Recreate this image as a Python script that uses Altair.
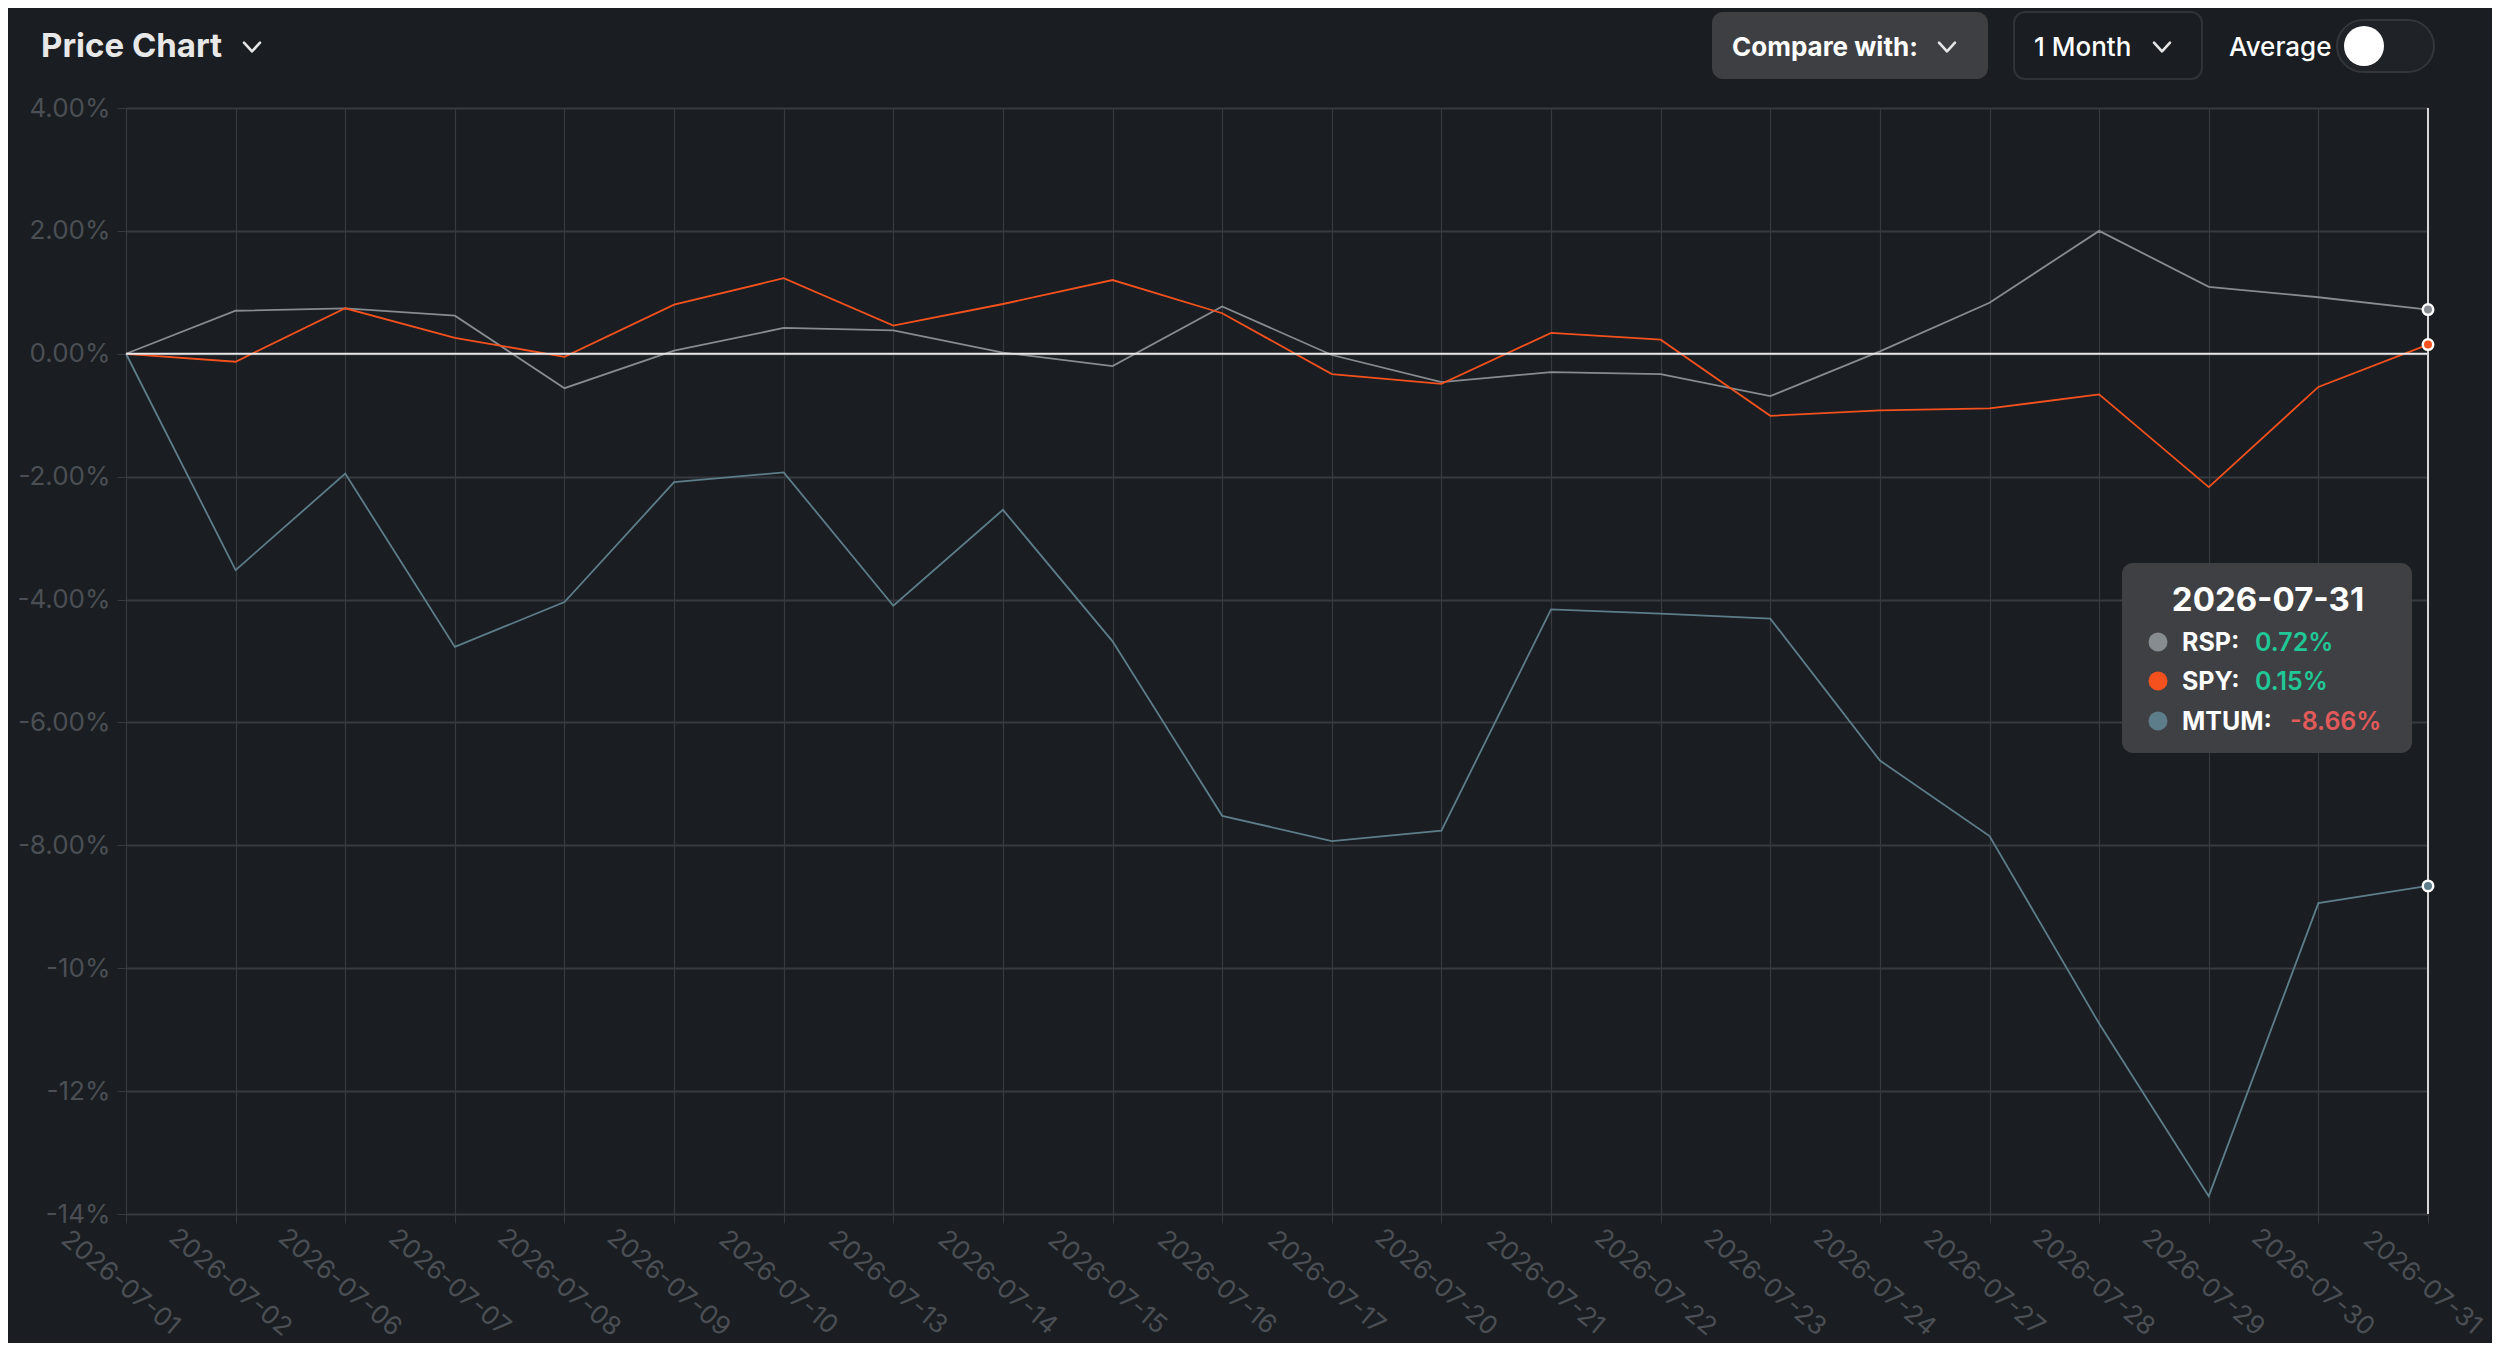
import altair as alt
import pandas as pd

# ---------------- data ----------------
dates = ["2026-07-01", "2026-07-02", "2026-07-06", "2026-07-07", "2026-07-08",
         "2026-07-09", "2026-07-10", "2026-07-13", "2026-07-14", "2026-07-15",
         "2026-07-16", "2026-07-17", "2026-07-20", "2026-07-21", "2026-07-22",
         "2026-07-23", "2026-07-24", "2026-07-27", "2026-07-28", "2026-07-29",
         "2026-07-30", "2026-07-31"]
rsp = [0.0, 0.70, 0.74, 0.62, -0.56, 0.05, 0.42, 0.38, 0.02, -0.20, 0.77,
       -0.02, -0.46, -0.30, -0.33, -0.69, 0.04, 0.83, 2.00, 1.09, 0.92, 0.72]
spy = [0.0, -0.13, 0.74, 0.26, -0.05, 0.80, 1.23, 0.46, 0.81, 1.20, 0.66,
       -0.33, -0.49, 0.34, 0.23, -1.01, -0.92, -0.89, -0.66, -2.17, -0.54, 0.15]
mtum = [0.0, -3.52, -1.95, -4.77, -4.04, -2.09, -1.93, -4.10, -2.54, -4.68, -7.52,
        -7.93, -7.76, -4.16, -4.23, -4.31, -6.62, -7.85, -10.90, -13.71, -8.94, -8.66]
symbols = ["RSP", "SPY", "MTUM"]
symbol_colors = ["#878c90", "#f4511e", "#5d7d8a"]
y_ticks = [4, 2, 0, -2, -4, -6, -8, -10, -12, -14]

hover_date = "2026-07-31"
tooltip_labels = ["RSP:", "SPY:", "MTUM:"]
tooltip_values = ["0.72%", "0.15%", "-8.66%"]
tooltip_value_colors = ["#1fc896", "#1fc896", "#e35a5a"]

title_text = "Price Chart"
compare_text = "Compare with:"
period_text = "1 Month"
average_text = "Average"

rows = []
for name, series in zip(symbols, [rsp, spy, mtum]):
    for d, v in zip(dates, series):
        rows.append({"date": d, "symbol": name, "value": v})
df = pd.DataFrame(rows)

# ---------------- style ----------------
BG = "#1a1d21"
GRID = "#373a3f"
LABEL = "#4b4f55"
FONT = "Inter"
PLOT_W, PLOT_H = 2302, 1106
OX, OY = 126, 108   # screen position of plot origin

x_enc = alt.X(
    "date:O",
    scale=alt.Scale(type="point", padding=0, domain=dates),
    axis=alt.Axis(title=None, labelAngle=40, labelAlign="center", labelBaseline="middle",
                  labelPadding=59, labelOffset=-6, tickSize=9, tickColor=GRID, grid=True,
                  gridColor=GRID, gridWidth=1.2, domain=False, labelColor=LABEL,
                  labelFont=FONT, labelFontSize=26, labelOverlap=False, labelBound=False,
                  labelFlush=False),
)
y_enc = alt.Y(
    "value:Q",
    scale=alt.Scale(domain=[-14, 4], nice=False, zero=False),
    axis=alt.Axis(title=None, values=y_ticks, tickSize=9, tickColor=GRID, grid=True,
                  gridColor=GRID, gridWidth=1.8, domain=False, labelColor=LABEL,
                  labelFont=FONT, labelFontSize=26, labelPadding=7,
                  labelExpr="(datum.value < 0 ? '-' : '') + (abs(datum.value) >= 10 ? format(abs(datum.value), 'd') : format(abs(datum.value), '.2f')) + '%'"),
)
color_enc = alt.Color("symbol:N", scale=alt.Scale(domain=symbols, range=symbol_colors), legend=None)

base = alt.Chart(df)
lines = base.mark_line(strokeWidth=1.8).encode(x=x_enc, y=y_enc, color=color_enc)

zero_rule = alt.Chart(pd.DataFrame({"z": [0]})).mark_rule(color="#e8e8e8", strokeWidth=2).encode(
    y=alt.datum(0))
hover_rule = alt.Chart(pd.DataFrame({"z": [0]})).mark_rule(color="#d6d6d6", strokeWidth=2).encode(
    x=alt.datum(hover_date))
end_points = base.transform_filter(alt.datum.date == hover_date).mark_point(
    filled=True, size=110, strokeWidth=2.5, opacity=1).encode(
    x=alt.X("date:O"), y=alt.Y("value:Q"),
    fill=alt.Fill("symbol:N", scale=alt.Scale(domain=symbols, range=symbol_colors), legend=None),
    stroke=alt.value("#ffffff"))

one = pd.DataFrame({"t": [0]})


def deco_text(text, sx, sy, size, weight, color, align="left"):
    return alt.Chart(pd.DataFrame({"t": [text]})).mark_text(
        font=FONT, fontSize=size, fontWeight=weight, color=color, align=align,
        baseline="alphabetic").encode(text="t:N", x=alt.value(sx - OX), y=alt.value(sy - OY))


def deco_rect(x1, x2, y1, y2, fill, radius, stroke=None, sw=0):
    kw = dict(cornerRadius=radius, fill=fill)
    if stroke:
        kw.update(stroke=stroke, strokeWidth=sw)
    return alt.Chart(one).mark_rect(**kw).encode(
        x=alt.value(x1 - OX), x2=alt.value(x2 - OX), y=alt.value(y1 - OY), y2=alt.value(y2 - OY))


def chevron(sx, sy):
    return alt.Chart(one).mark_point(
        shape="M-1,-0.55L0,0.55L1,-0.55", size=256, filled=False, strokeWidth=2.6,
        color="#e6e6e6", opacity=1, strokeCap="round", strokeJoin="round").encode(
        x=alt.value(sx - OX), y=alt.value(sy - OY))


def dot(sx, sy, d, color):
    return alt.Chart(one).mark_circle(size=d * d, color=color, opacity=1).encode(
        x=alt.value(sx - OX), y=alt.value(sy - OY))


header = [
    deco_text(title_text, 41, 57, 33, 700, "#e8e8e8"),
    chevron(252, 47),
    deco_rect(1712, 1988, 12, 79, "#3e3f43", 11),
    deco_text(compare_text, 1732, 56, 26, 700, "#ffffff"),
    chevron(1947, 47),
    deco_rect(2014, 2202, 12, 79, BG, 11, stroke="#2f3236", sw=2),
    deco_text(period_text, 2034, 56, 26, 500, "#ffffff"),
    chevron(2162, 47),
    deco_text(average_text, 2229, 56, 26, 500, "#ffffff"),
    deco_rect(2337, 2434, 20, 72, "#1f2226", 26, stroke="#33363b", sw=2),
    dot(2364, 46, 40, "#ffffff"),
]

tip = [
    deco_rect(2122, 2412, 563, 753, "#3f4044", 11),
    deco_text(hover_date, 2268, 611, 33, 700, "#ffffff", align="center"),
]
row_y = [651, 690, 730]
val_x = [2255, 2255, 2290]
for i in range(3):
    tip.append(dot(2158, row_y[i] - 9, 19, symbol_colors[i]))
    tip.append(deco_text(tooltip_labels[i], 2182, row_y[i], 25, 700, "#ffffff"))
    tip.append(deco_text(tooltip_values[i], val_x[i], row_y[i], 25, 600, tooltip_value_colors[i]))

chart = alt.layer(lines, zero_rule, hover_rule, end_points, *header, *tip).properties(
    width=PLOT_W, height=PLOT_H,
    padding={"left": OX - 8, "top": OY - 8, "right": 2484 - (OX - 8) - PLOT_W,
             "bottom": 1335 - (OY - 8) - PLOT_H},
    autosize=alt.AutoSizeParams(type="none"),
).configure(background=BG).configure_view(stroke=None)

chart.save("out.html", embed_options={"renderer": "svg", "actions": False})
